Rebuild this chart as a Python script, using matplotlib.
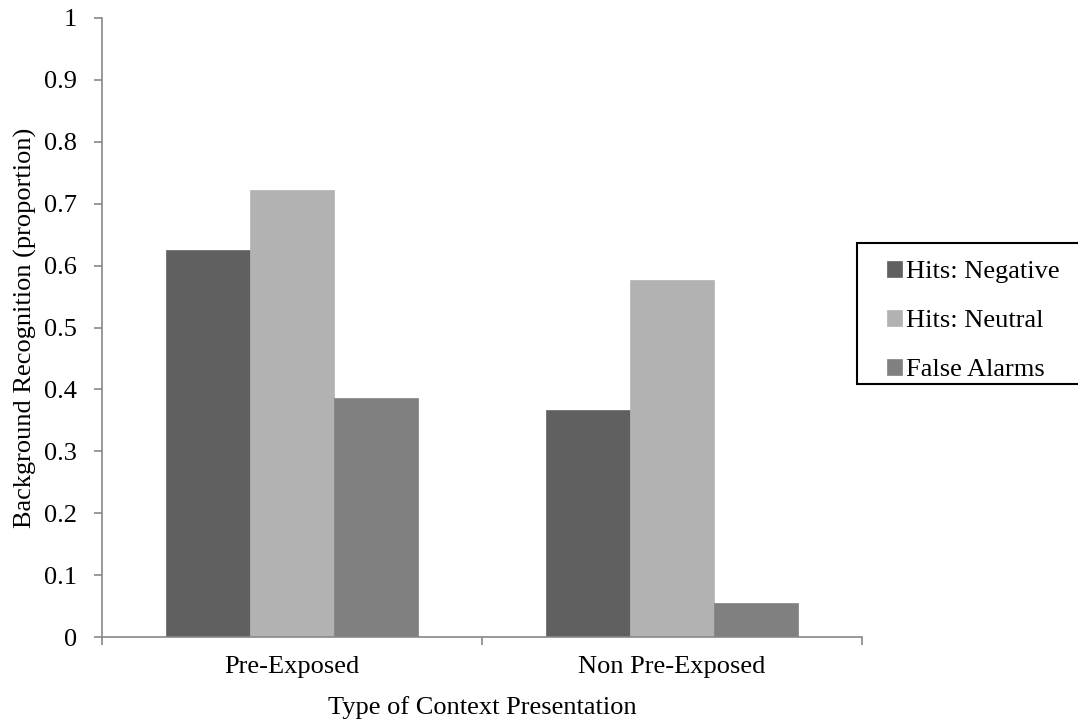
import numpy as np
import matplotlib.pyplot as plt
from matplotlib.patches import Rectangle

plt.rcParams['font.family'] = ['Liberation Serif', 'DejaVu Serif']

categories = ["Pre-Exposed", "Non Pre-Exposed"]
series = ["Hits: Negative", "Hits: Neutral", "False Alarms"]
hits_negative = [0.625, 0.366]
hits_neutral = [0.722, 0.577]
false_alarms = [0.386, 0.055]
colors = ["#606060", "#b2b2b2", "#808080"]

W, H = 1078, 725
fig = plt.figure(figsize=(W / 100, H / 100), dpi=100)
ax = fig.add_axes([102 / W, 1 - 637 / H, 760 / W, 619 / H])

x = np.arange(len(categories))
w = 0.221
for i, (vals, name) in enumerate(zip([hits_negative, hits_neutral, false_alarms], series)):
    ax.bar(x + (i - 1) * w, vals, width=w, color=colors[i], label=name,
           edgecolor=colors[i], linewidth=0.5)

ax.set_xlim(-0.5, 1.5)
ax.set_ylim(0, 1)
ax.set_yticks(np.arange(0, 1.01, 0.1))
ax.set_yticklabels(["0"] + ["%.1f" % v for v in np.arange(0.1, 0.95, 0.1)] + ["1"])
ax.set_xticks(x)
ax.set_xticklabels(categories)
ax.set_xticks([-0.5, 0.5, 1.5], minor=True)
ax.tick_params(axis='x', which='major', length=0, labelsize=19, pad=14)
ax.tick_params(axis='x', which='minor', length=6, color='#888888', width=1.2)
ax.tick_params(axis='y', length=6, color='#888888', width=1.2, labelsize=19, pad=12)

for s in ['top', 'right']:
    ax.spines[s].set_visible(False)
for s in ['left', 'bottom']:
    ax.spines[s].set_color('#888888')
    ax.spines[s].set_linewidth(1.2)

ax.set_xlabel("Type of Context Presentation", fontsize=19, labelpad=13)
ax.set_ylabel("Background Recognition (proportion)", fontsize=19, labelpad=5)

# legend frame drawn separately so the inner spacing matches
fig.patches.append(Rectangle((857 / W, 1 - 384 / H), 230 / W, 141 / H,
                             transform=fig.transFigure, facecolor='white',
                             edgecolor='black', linewidth=1.5, zorder=2))
leg = fig.legend(loc='upper left', bbox_to_anchor=(887 / W, 1 - 261 / H),
                 borderaxespad=0, borderpad=0, fontsize=19, handlelength=0.57,
                 handleheight=0.57, handletextpad=0.15, labelspacing=1.0,
                 frameon=False)
leg.set_zorder(3)

fig.savefig("out.png", dpi=100)
